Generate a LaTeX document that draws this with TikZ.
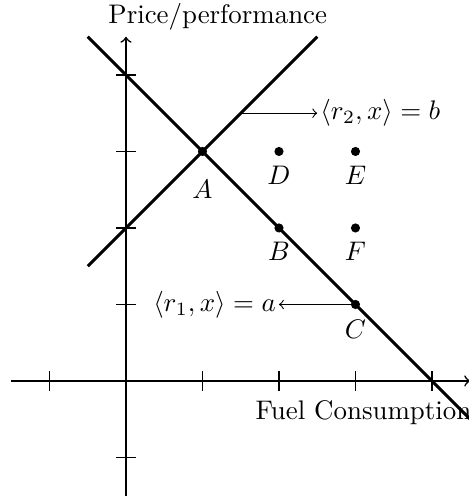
\documentclass[tikz,border=0pt]{standalone}
\begin{document}
\begin{tikzpicture}[
  axis/.style={semithick,->},
  tick/.style={thin},
  heavy/.style={line width=1.1pt},
  dot/.style={circle,fill=black,inner sep=0pt,minimum size=3.4pt},
  lbl/.style={font=\normalsize}
]
\useasboundingbox (-1.647,-1.53) rectangle (4.484,4.98);
% axes
\coordinate (xs) at (-1.5,0); \coordinate (xe) at (4.5,0);
\coordinate (ys) at (0,-1.5); \coordinate (ye) at (0,4.5);
\draw[axis] (xs) -- (xe);
\draw[axis] (ys) -- (ye);
% ticks
\foreach \x in {-1,1,2,3,4} \draw[tick] (\x,-0.13) -- (\x,0.13);
\foreach \y in {-1,1,2,3,4} \draw[tick] (-0.13,\y) -- (0.13,\y);
% axis labels
\node[lbl] (ylab) at (1.2,4.76) {Price/performance};
\node[lbl,anchor=west] (xlab) at (1.57,-0.42) {Fuel Consumption};
% heavy lines
\coordinate (l1s) at (-0.5,4.5); \coordinate (l1e) at (4.5,-0.5);
\coordinate (l2s) at (-0.5,1.5); \coordinate (l2e) at (2.5,4.5);
\draw[heavy] (l1s) -- (l1e);
\draw[heavy] (l2s) -- (l2e);
% points
\node[dot] (A) at (1,3) {};
\node[dot] (D) at (2,3) {};
\node[dot] (E) at (3,3) {};
\node[dot] (B) at (2,2) {};
\node[dot] (F) at (3,2) {};
\node[dot] (C) at (3,1) {};
\node[lbl] (Al) at (1,2.5) {$A$};
\node[lbl] (Dl) at (2,2.69) {$D$};
\node[lbl] (El) at (3,2.69) {$E$};
\node[lbl] (Bl) at (2,1.69) {$B$};
\node[lbl] (Fl) at (3,1.69) {$F$};
\node[lbl] (Cl) at (3,0.67) {$C$};
% normal arrows
\coordinate (r2s) at (1.5,3.5);
\node[lbl,anchor=west,inner sep=1pt] (r2) at (2.5,3.5) {$\langle r_2,x\rangle = b$};
\draw[->,thin] (r2s) -- (r2.west);
\node[lbl,anchor=east,inner sep=1pt] (r1) at (2,1) {$\langle r_1,x\rangle = a$};
\draw[->,thin] (C.center) -- (r1.east);
\end{tikzpicture}
\end{document}
